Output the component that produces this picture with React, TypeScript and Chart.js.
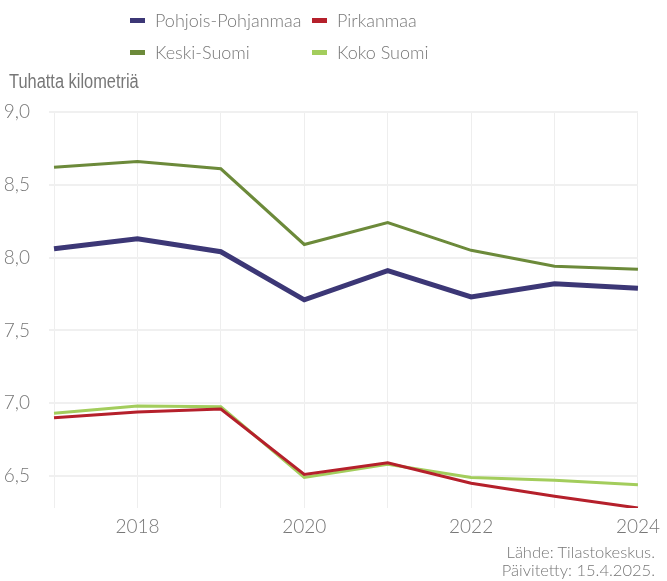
import React, { useEffect, useRef } from "react";
import { Chart, registerables } from "chart.js";

Chart.register(...registerables);

const years = ["2017", "2018", "2019", "2020", "2021", "2022", "2023", "2024"];
const pohjoisPohjanmaa = [8.06, 8.13, 8.04, 7.71, 7.91, 7.73, 7.82, 7.79];
const pirkanmaa = [6.9, 6.94, 6.96, 6.51, 6.59, 6.45, 6.36, 6.28];
const keskiSuomi = [8.62, 8.66, 8.61, 8.09, 8.24, 8.05, 7.94, 7.92];
const kokoSuomi = [6.93, 6.98, 6.975, 6.49, 6.58, 6.49, 6.47, 6.44];
const yTicks = [6.5, 7.0, 7.5, 8.0, 8.5, 9.0];

const seriesNames = ["Pohjois-Pohjanmaa", "Pirkanmaa", "Keski-Suomi", "Koko Suomi"];
const seriesColors = ["#3c3776", "#b5202b", "#6c8a3a", "#a3cd5c"];

const GRAY = "#777777";
const FONT = "Lato, 'Noto Sans', sans-serif";

export default function App() {
  const ref = useRef<HTMLCanvasElement | null>(null);

  useEffect(() => {
    document.body.style.margin = "0";
    if (!ref.current) return;
    const chart = new Chart(ref.current, {
      type: "line",
      data: {
        labels: years,
        datasets: [
          { label: seriesNames[2], data: keskiSuomi, borderColor: seriesColors[2], borderWidth: 3, pointRadius: 0, order: 2 },
          { label: seriesNames[3], data: kokoSuomi, borderColor: seriesColors[3], borderWidth: 3, pointRadius: 0, order: 3 },
          { label: seriesNames[1], data: pirkanmaa, borderColor: seriesColors[1], borderWidth: 3, pointRadius: 0, order: 1 },
          { label: seriesNames[0], data: pohjoisPohjanmaa, borderColor: seriesColors[0], borderWidth: 5, pointRadius: 0, order: 0 },
        ],
      },
      options: {
        animation: false,
        responsive: false,
        maintainAspectRatio: false,
        layout: { padding: { top: 112, right: 25, left: 0, bottom: 0 } },
        plugins: { legend: { display: false }, tooltip: { enabled: false } },
        scales: {
          x: {
            type: "category",
            offset: false,
            grid: { color: "#eeeeee", drawTicks: false, lineWidth: 1 },
            border: { display: false },
            ticks: {
              autoSkip: false,
              maxRotation: 0,
              padding: 7,
              color: GRAY,
              font: { family: FONT, size: 19, weight: 300 },
              callback: (_v: any, i: number) => (i % 2 === 1 ? years[i] : ""),
            },
            afterFit: (s: any) => {
              s.height = 73;
            },
          },
          y: {
            min: 6.28,
            max: 9.0,
            grid: { color: "#f0f0f0", drawTicks: true, tickLength: 5, tickColor: "#f0f0f0", lineWidth: 2 },
            border: { display: false },
            afterBuildTicks: (s: any) => {
              s.ticks = yTicks.map((v) => ({ value: v }));
            },
            ticks: {
              padding: 19,
              color: GRAY,
              font: { family: FONT, size: 19, weight: 300 },
              callback: (v: any) => Number(v).toFixed(1).replace(".", ","),
            },
            afterFit: (s: any) => {
              s.width = 54;
            },
          },
        },
      },
    });
    return () => chart.destroy();
  }, []);

  const legendItem = (i: number, left: number, top: number) => (
    <div key={i} style={{ position: "absolute", left, top, display: "flex", alignItems: "center", height: 24 }}>
      <div style={{ width: 15, height: 5, background: seriesColors[i], marginRight: 10 }} />
      <span
        style={{
          fontFamily: FONT,
          fontSize: 18,
          fontWeight: 300,
          color: GRAY,
          whiteSpace: "nowrap",
        }}
      >
        {seriesNames[i]}
      </span>
    </div>
  );

  return (
    <div style={{ position: "relative", width: 667, height: 581, background: "#fff", overflow: "hidden" }}>
      <canvas ref={ref} width={667} height={581} style={{ position: "absolute", left: 0, top: 0 }} />
      {legendItem(0, 130, 8)}
      {legendItem(1, 312, 8)}
      {legendItem(2, 130, 40)}
      {legendItem(3, 312, 40)}
      <div
        style={{
          position: "absolute",
          left: 9,
          top: 70,
          fontFamily: "'Liberation Sans', Arial, sans-serif",
          fontSize: 20,
          color: GRAY,
          whiteSpace: "nowrap",
          transform: "scaleX(0.82)",
          transformOrigin: "left center",
        }}
      >
        Tuhatta kilometriä
      </div>
      <div
        style={{
          position: "absolute",
          right: 12,
          top: 543,
          textAlign: "right",
          fontFamily: FONT,
          fontSize: 16.5,
          fontWeight: 300,
          lineHeight: "18px",
          color: GRAY,
        }}
      >
        Lähde: Tilastokeskus.
        <br />
        Päivitetty: 15.4.2025.
      </div>
    </div>
  );
}
